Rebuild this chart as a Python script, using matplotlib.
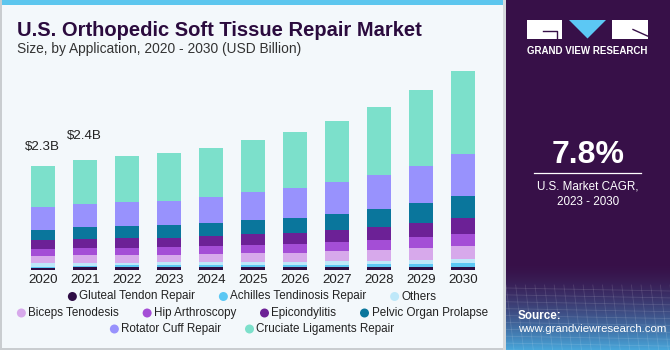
import numpy as np
import matplotlib
matplotlib.use("Agg")
import matplotlib.pyplot as plt
from matplotlib.patches import Rectangle, Polygon, Ellipse

plt.rcParams['font.family'] = ['Liberation Sans', 'DejaVu Sans']

years = ["2020", "2021", "2022", "2023", "2024", "2025", "2026", "2027", "2028", "2029", "2030"]

series_names = ["Gluteal Tendon Repair", "Achilles Tendinosis Repair", "Others",
                "Biceps Tenodesis", "Hip Arthroscopy", "Epicondylitis",
                "Pelvic Organ Prolapse", "Rotator Cuff Repair", "Cruciate Ligaments Repair"]

gluteal   = [0.044, 0.057, 0.057, 0.057, 0.066, 0.057, 0.066, 0.066, 0.073, 0.057, 0.073]
achilles  = [0.029, 0.037, 0.044, 0.044, 0.044, 0.044, 0.044, 0.051, 0.051, 0.066, 0.073]
others    = [0.073, 0.066, 0.060, 0.066, 0.066, 0.075, 0.073, 0.073, 0.082, 0.104, 0.104]
biceps    = [0.170, 0.170, 0.170, 0.170, 0.183, 0.190, 0.198, 0.221, 0.243, 0.258, 0.287]
hip       = [0.148, 0.161, 0.161, 0.176, 0.176, 0.192, 0.198, 0.207, 0.221, 0.249, 0.265]
epicond   = [0.198, 0.198, 0.205, 0.198, 0.221, 0.227, 0.227, 0.256, 0.280, 0.293, 0.353]
pelvic    = [0.227, 0.265, 0.280, 0.271, 0.287, 0.318, 0.346, 0.368, 0.404, 0.441, 0.485]
rotator   = [0.492, 0.500, 0.514, 0.529, 0.567, 0.617, 0.655, 0.706, 0.750, 0.831, 0.919]
cruciate  = [0.919, 0.961, 1.014, 1.067, 1.080, 1.147, 1.241, 1.338, 1.493, 1.660, 1.830]

bar_labels = {"2020": "$2.3B", "2021": "$2.4B"}

colors = ["#2E0D45", "#5CC8F4", "#BEE8F9", "#D7A9EB", "#A44ED6",
          "#6C2196", "#0A769C", "#9892FD", "#7CE0CB"]

series = [gluteal, achilles, others, biceps, hip, epicond, pelvic, rotator, cruciate]

W, H = 670, 350
fig = plt.figure(figsize=(W / 100, H / 100), dpi=100)
fig.patch.set_facecolor("#F3F8FB")

def fx(x):
    return x / W

def fy(y):
    return 1 - y / H

# frame decorations
fig.patches.append(Rectangle((0, fy(5)), fx(504), 5 / H, transform=fig.transFigure,
                             facecolor="#5CC6EE", edgecolor="none", zorder=0))
fig.patches.append(Rectangle((0, 0), fx(1.5), 1, transform=fig.transFigure,
                             facecolor="#C9CDD0", edgecolor="none", zorder=0))
fig.patches.append(Rectangle((0, 0), fx(504), 2 / H, transform=fig.transFigure,
                             facecolor="#C9CDD0", edgecolor="none", zorder=0))
fig.patches.append(Rectangle((fx(503), 0), fx(3), 1, transform=fig.transFigure,
                             facecolor="#D5D9DC", edgecolor="none", zorder=0))

# Title
fig.text(fx(17), fy(30), "U.S. Orthopedic Soft Tissue Repair Market", fontsize=14.5,
         fontweight="bold", color="#2B0B3E", va="center", ha="left")
fig.text(fx(17), fy(49.5), "Size, by Application, 2020 - 2030 (USD Billion)", fontsize=9.9,
         color="#333333", va="center", ha="left")

# Chart axes
base_y = 270
top_y = 60
px_per_b = 1 / 0.02205
ax = fig.add_axes([fx(21.8), fy(base_y), fx(483.8) - fx(21.8), (base_y - top_y) / H])
ax.set_facecolor("none")
x = np.arange(len(years))
bottom = np.zeros(len(years))
for name, vals, c in zip(series_names, series, colors):
    ax.bar(x, vals, width=0.58, bottom=bottom, color=c, edgecolor="none", label=name)
    bottom += np.array(vals)

ax.set_xlim(-0.5, len(years) - 0.5)
ax.set_ylim(0, (base_y - top_y) / px_per_b)
for s in ax.spines.values():
    s.set_visible(False)
ax.set_yticks([])
ax.set_xticks(x)
ax.set_xticklabels(years, fontsize=9.6, color="#222222")
ax.tick_params(axis="x", length=0, pad=3)

offsets = {"2020": 13, "2021": 18}
for i, yr in enumerate(years):
    if yr in bar_labels:
        ax.annotate(bar_labels[yr], (x[i], bottom[i]), xytext=(0, offsets[yr] * 0.72),
                    textcoords="offset points", ha="center", va="bottom",
                    fontsize=9.6, color="#222222")

# Legend (flowing, centered rows)
rows = [[0, 1, 2], [3, 4, 5, 6], [7, 8]]
row_y = [296.5, 313, 329]
center_x = 252
fig.canvas.draw()
renderer = fig.canvas.get_renderer()
for r, yy in zip(rows, row_y):
    texts = []
    widths = []
    for k in r:
        t = fig.text(0, fy(yy), series_names[k], fontsize=8.4, color="#222222",
                     va="center", ha="left")
        bb = t.get_window_extent(renderer=renderer)
        texts.append(t)
        widths.append(bb.width)
    marker_w = 10
    gap = 25
    total = sum(marker_w + w for w in widths) + gap * (len(r) - 1)
    cur = center_x - total / 2
    for k, t, w in zip(r, texts, widths):
        fig.patches.append(Ellipse((fx(cur + 4), fy(yy)), width=9 / W, height=9 / H,
                           transform=fig.transFigure, facecolor=colors[k], edgecolor="none"))
        t.set_x(fx(cur + marker_w + 1))
        cur += marker_w + w + gap

# Right panel
px0 = 506
panel = fig.add_axes([fx(px0), 0, 1 - fx(px0), 1])
panel.set_xlim(px0, W)
panel.set_ylim(H, 0)
panel.axis("off")
panel.add_patch(Rectangle((px0, 0), W - px0, H, facecolor="#371048", edgecolor="none"))
# bottom gradient
grad = np.linspace(0, 1, 100)[:, None] ** 1.6
c1 = np.array([0x37, 0x10, 0x48]) / 255
c2 = np.array([0x48, 0xA6, 0xDA]) / 255
img = (c1[None, None, :] * (1 - grad[..., None]) + c2[None, None, :] * grad[..., None])
img = np.repeat(img, 2, axis=1)
panel.imshow(img, extent=(px0, W, H, 262), aspect="auto", zorder=1)
for gy in np.linspace(288, 350, 10):
    panel.plot([px0, W], [gy, gy + 3], color="white", alpha=0.12, lw=0.6, zorder=2)
for gx in np.linspace(px0, W, 18):
    panel.plot([gx, gx + 8], [285, H], color="white", alpha=0.12, lw=0.6, zorder=2)

# logo
panel.add_patch(Rectangle((527, 20), 35, 18.5, facecolor="white", edgecolor="none", zorder=3))
panel.plot([543, 557, 557], [31, 31, 38.5], color="#371048", lw=1.0, zorder=4)
panel.add_patch(Polygon([[569, 20], [606, 20], [587.5, 38.5]], closed=True,
                        facecolor="#5CC8F4", edgecolor="none", zorder=3))
panel.add_patch(Rectangle((612, 20), 35.5, 18.5, facecolor="white", edgecolor="none", zorder=3))
panel.plot([633, 647.5], [29.5, 36], color="#371048", lw=1.0, zorder=4)
panel.text(587.5, 51, "GRAND VIEW RESEARCH", color="white", fontsize=7.0, fontweight="bold",
           ha="center", va="center", zorder=4)

panel.text(588, 155, "7.8%", color="white", fontsize=23, fontweight="bold",
           ha="center", va="center", zorder=4)
panel.plot([534, 641], [173, 173], color="white", lw=0.9, zorder=4)
panel.text(588, 186.5, "U.S. Market CAGR,", color="white", fontsize=8.4,
           ha="center", va="center", zorder=4)
panel.text(588, 202, "2023 - 2030", color="white", fontsize=8.4,
           ha="center", va="center", zorder=4)
panel.text(518, 316, "Source:", color="white", fontsize=8.4, fontweight="bold",
           ha="left", va="center", zorder=4)
panel.text(518, 329.5, "www.grandviewresearch.com", color="white", fontsize=8.2,
           ha="left", va="center", zorder=4)

fig.savefig("out.png", dpi=100, facecolor=fig.get_facecolor())
